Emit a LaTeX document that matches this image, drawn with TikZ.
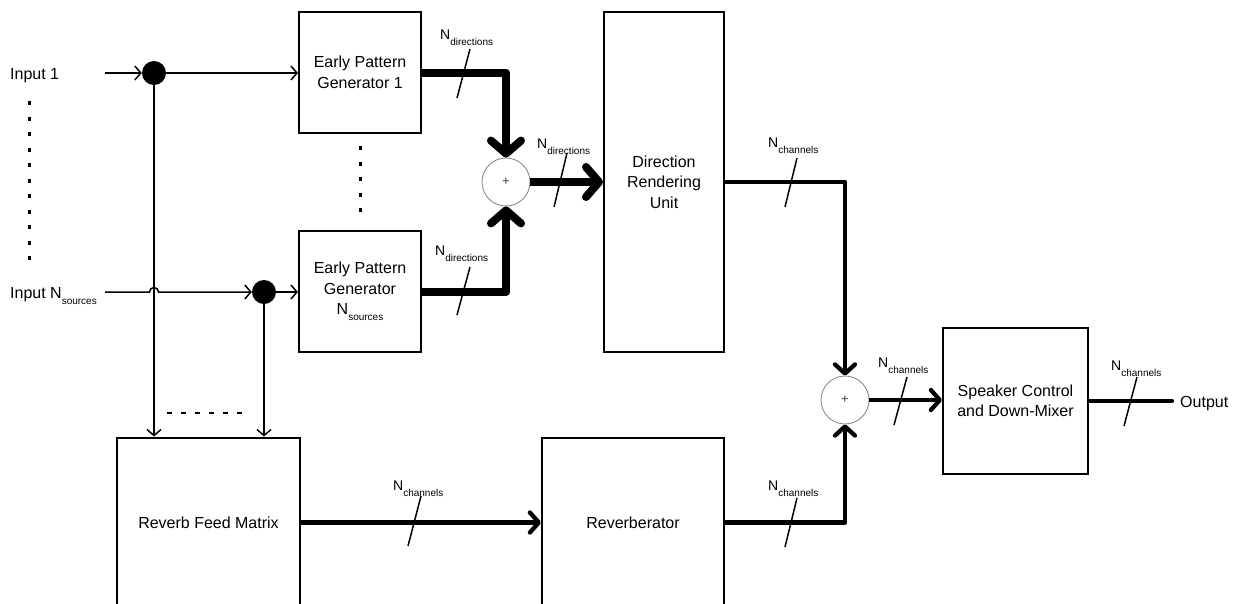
\documentclass[tikz,border=0pt]{standalone}
\usepackage{fontspec}
\setmainfont{Liberation Sans}
\usetikzlibrary{arrows.meta}
\newcommand{\Nsub}[1]{N\raisebox{-6pt}{\fontsize{10}{10}\selectfont #1}}
\tikzset{
  block/.style={draw, rectangle, line width=2pt, align=center, inner sep=0pt, font=\fontsize{16}{20.5}\selectfont},
  tap/.style={circle, fill=black, minimum size=24pt, inner sep=0pt},
  adder/.style={circle, draw=gray, line width=0.8pt, minimum size=48pt, inner sep=0pt, text=black!75, font=\fontsize{13}{13}\selectfont},
  sig/.style={line width=1.5pt, -{Straight Barb[length=6pt,width=14pt]}},
  dirbus/.style={line width=8pt, line join=round, -{Straight Barb[length=13pt,width=30pt,round]}},
  chbus/.style={line width=4.3pt, line join=round, -{Straight Barb[length=9pt,width=20pt,round]}},
  buslabel/.style={anchor=base west, inner sep=0pt, font=\fontsize{14}{16}\selectfont},
  tick/.style={line width=1.5pt},
  txt/.style={anchor=base west, inner sep=0pt, font=\fontsize{16}{20}\selectfont}
}
\begin{document}
\begin{tikzpicture}[x=1pt,y=-1pt]
\useasboundingbox (0,0) rectangle (1244,603);
\clip (0,0) rectangle (1244,603);

\node[block, minimum width=122pt, minimum height=121pt] (epg1) at (360,72.5) {Early Pattern\\Generator 1};
\node[block, minimum width=122pt, minimum height=121pt] (epgN) at (360,291.5) {Early Pattern\\Generator\\\Nsub{sources}};
\node[block, minimum width=120pt, minimum height=340pt] (dru) at (664,182) {Direction\\Rendering\\Unit};
\node[block, minimum width=183pt, minimum height=170pt] (rfm) at (208.5,522.5) {Reverb Feed Matrix};
\node[block, minimum width=182pt, minimum height=170pt] (rev) at (633,522.5) {Reverberator};
\node[block, minimum width=145pt, minimum height=146pt] (spk) at (1015.5,401) {Speaker Control\\and Down-Mixer};

\node[tap] (tap1) at (154,73) {};
\node[tap] (tapN) at (264,292) {};
\node[adder] (sum1) at (506,182) {+};
\node[adder] (sum2) at (845,400) {+};

\node[txt] (in1) at (10,79) {Input 1};
\node[txt] (inN) at (10,298) {Input \Nsub{sources}};
\node[txt] (out) at (1180,407) {Output};
\coordinate (in1s) at (105,73);
\coordinate (inNs) at (105,292);
\coordinate (hop) at (149.5,292);
\coordinate (outend) at (1172,401);

\draw[sig] (in1s) -- (tap1);
\draw[sig] (tap1) -- (tap1 -| epg1.west);
\draw[sig] (tap1) -- (tap1 |- rfm.north);
\draw[sig] (inNs) -- (hop) arc[start angle=180, end angle=0, radius=4.5pt] -- (tapN);
\draw[sig] (tapN) -- (tapN -| epgN.west);
\draw[sig] (tapN) -- (tapN |- rfm.north);

\draw[dirbus] (epg1.east) -| (sum1.north);
\draw[dirbus] (epgN.east |- tapN) -| (sum1.south);
\draw[dirbus] (sum1.east) -- (sum1 -| dru.west);
\draw[chbus] (dru.east) -| (sum2.north);
\draw[chbus] (rev.east) -| (sum2.south);
\draw[chbus] (rfm.east) -- (rev.west);
\draw[chbus] (sum2.east) -- (sum2 -| spk.west);
\draw[line width=4.3pt, line cap=round] (spk.east) -- (outend);

\draw[line width=3pt, dash pattern=on 4pt off 11.5pt] (29,101) -- (29,260);
\draw[line width=3pt, dash pattern=on 4pt off 11.5pt] (360,146) -- (360,212);
\draw[line width=2pt, dash pattern=on 5pt off 9pt] (167,413) -- (250,413);

\node[buslabel] (ldir1) at (440,39) {\Nsub{directions}};
\draw[tick] (470,49) -- (457,98);
\node[buslabel] (ldirN) at (435,255) {\Nsub{directions}};
\draw[tick] (470,267) -- (457,315);
\node[buslabel] (ldirsum) at (537,148) {\Nsub{directions}};
\draw[tick] (567,153) -- (554,207);
\node[buslabel] (lchdru) at (768,147) {\Nsub{channels}};
\draw[tick] (797,158) -- (785,207);
\node[buslabel] (lchrfm) at (393,490) {\Nsub{channels}};
\draw[tick] (421,496) -- (408,546);
\node[buslabel] (lchrev) at (768,490) {\Nsub{channels}};
\draw[tick] (797,498) -- (785,547);
\node[buslabel] (lchsum) at (878,367) {\Nsub{channels}};
\draw[tick] (907,377) -- (894,425);
\node[buslabel] (lchspk) at (1111,370) {\Nsub{channels}};
\draw[tick] (1137,377) -- (1124,426);
\end{tikzpicture}
\end{document}
